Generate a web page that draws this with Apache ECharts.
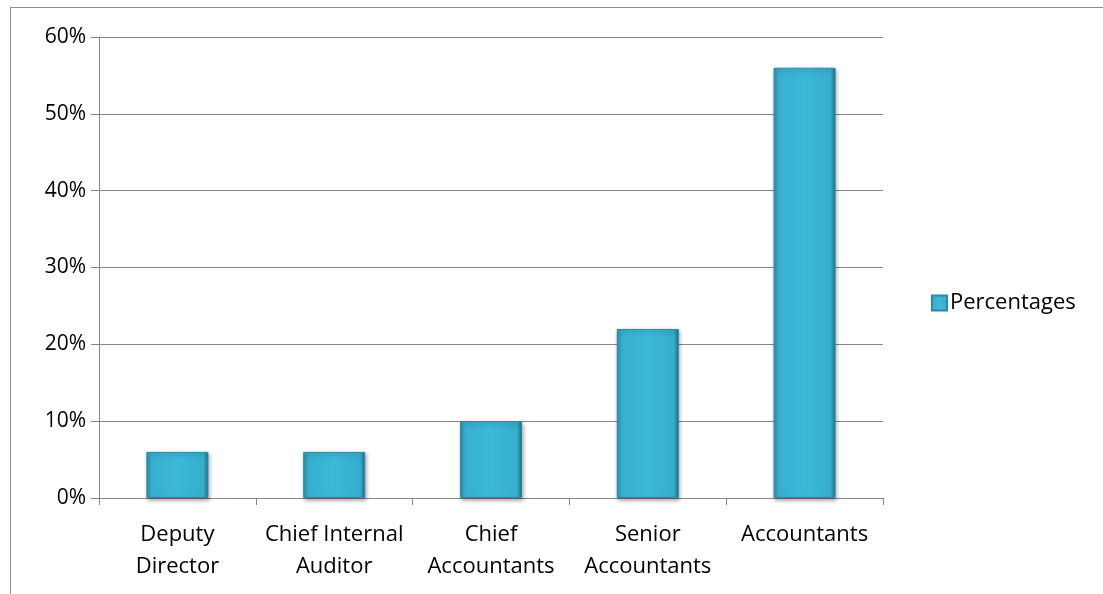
<!DOCTYPE html>
<html>
<head>
<meta charset="utf-8">
<script src="https://cdn.jsdelivr.net/npm/echarts@6/dist/echarts.min.js"></script>
<style>
html,body{margin:0;padding:0;background:#fff;}
#chart{width:1103px;height:594px;}
#frame{position:absolute;left:10px;top:7px;width:1093px;height:587px;border-left:1.5px solid #8c8c8c;border-top:1.5px solid #8c8c8c;box-sizing:border-box;pointer-events:none;}
</style>
</head>
<body>
<div id="chart"></div>
<div id="frame"></div>
<script>
const categories = ["Deputy\nDirector", "Chief Internal\nAuditor", "Chief\nAccountants", "Senior\nAccountants", "Accountants"];
const percentages = [6, 6, 10, 22, 56];
const seriesName = "Percentages";
const yTicks = { min: 0, max: 60, interval: 10 };

const chart = echarts.init(document.getElementById('chart'));
const FONT = '"Open Sans", "Liberation Sans", sans-serif';
const barColor = new echarts.graphic.LinearGradient(0, 0, 1, 0, [
  { offset: 0, color: '#2b93b2' },
  { offset: 0.08, color: '#38b0cf' },
  { offset: 0.5, color: '#3cb8d9' },
  { offset: 0.92, color: '#37aecd' },
  { offset: 1, color: '#226f87' }
]);
chart.setOption({
  animation: false,
  grid: { left: 99, right: 220, top: 37, bottom: 96 },
  legend: {
    data: [seriesName],
    orient: 'vertical',
    left: 926, top: 287,
    itemWidth: 15, itemHeight: 15, itemGap: 4,
    icon: 'rect',
    textStyle: { fontFamily: FONT, fontSize: 22, color: '#000', padding: [0, 0, 0, -2] }
  },
  xAxis: {
    type: 'category',
    data: categories,
    axisLine: { lineStyle: { color: '#868686', width: 1 } },
    axisTick: { show: true, length: 7, lineStyle: { color: '#868686' } },
    axisLabel: { fontFamily: FONT, fontSize: 22, color: '#000', lineHeight: 32, margin: 21, interval: 0 }
  },
  yAxis: {
    type: 'value',
    min: yTicks.min, max: yTicks.max, interval: yTicks.interval,
    axisLine: { show: true, lineStyle: { color: '#868686', width: 1 } },
    axisTick: { show: true, length: 8, lineStyle: { color: '#868686' } },
    splitLine: { lineStyle: { color: '#868686', width: 1 } },
    axisLabel: { fontFamily: FONT, fontSize: 21, color: '#000', margin: 13, formatter: '{value}%' }
  },
  series: [{
    name: seriesName,
    type: 'bar',
    data: percentages,
    barWidth: 62,
    itemStyle: {
      color: barColor,
      borderColor: '#2a8aa8', borderWidth: 1,
      shadowColor: 'rgba(0,0,0,0.35)', shadowBlur: 4, shadowOffsetX: 1, shadowOffsetY: 2
    }
  }]
});
</script>
</body>
</html>
